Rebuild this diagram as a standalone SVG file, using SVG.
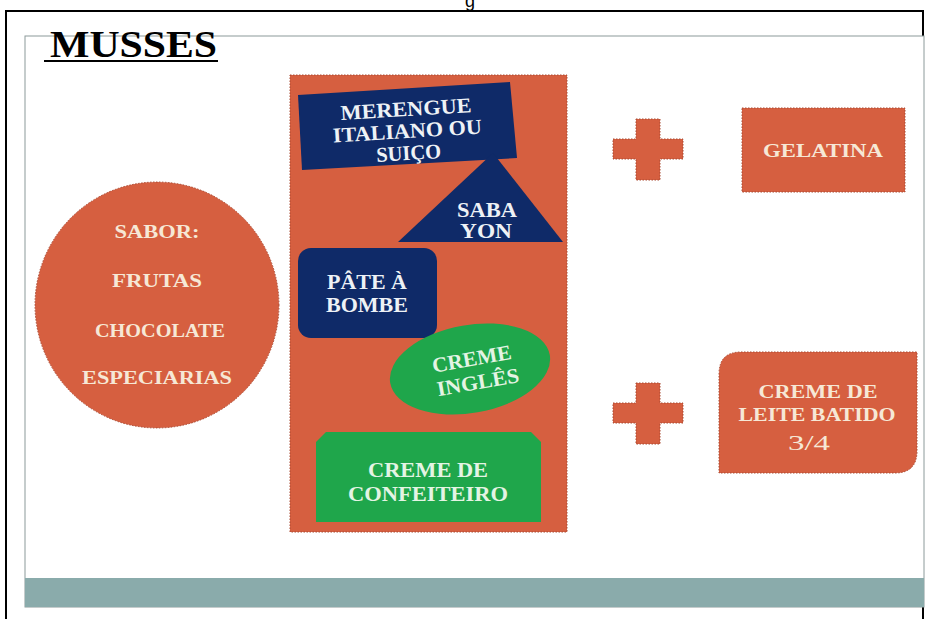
<svg xmlns="http://www.w3.org/2000/svg" width="926" height="619" viewBox="0 0 926 619">
<style>
.t{font-family:"Liberation Serif","DejaVu Serif",serif;font-weight:bold;text-anchor:middle}
.cream{fill:#f6e8d6}
.wh{fill:#eef2f6}
.gt{fill:#e4f4e4}
.or{fill:#d65f40;stroke:#a94a33;stroke-width:1;stroke-dasharray:1.5 1.5}
</style>
<rect width="926" height="619" fill="#fff"/>
<text x="470" y="7" font-family="Liberation Sans,sans-serif" font-size="18" fill="#000" text-anchor="middle">g</text>
<path d="M6 619 V11 H923 V619" fill="none" stroke="#000" stroke-width="2"/>
<rect x="25" y="36" width="899" height="571" fill="#fff" stroke="#8c9a9a" stroke-width="1"/>
<rect x="25" y="578" width="899" height="29" fill="#8aabab"/>
<g id="title">
<text x="50" y="57" font-family="Liberation Serif,serif" font-weight="bold" font-size="37" fill="#000" textLength="167" lengthAdjust="spacingAndGlyphs">MUSSES</text>
<rect x="44" y="60" width="174" height="2" fill="#000"/>
</g>
<g id="container"><rect class="or" x="290" y="75" width="277" height="457"/></g>
<g id="merengue">
<polygon points="298,95 510,82 517,158 302,170" fill="#0f2a68"/>
<text class="t wh" font-size="21" transform="rotate(-3.5 407 126)"><tspan x="407" y="116" textLength="131" lengthAdjust="spacingAndGlyphs">MERENGUE</tspan><tspan x="407" y="138" textLength="149" lengthAdjust="spacingAndGlyphs">ITALIANO OU</tspan><tspan x="407" y="160" textLength="65" lengthAdjust="spacingAndGlyphs">SUIÇO</tspan></text>
</g>
<g id="sabayon">
<polygon points="493,153 563,242 398,242" fill="#0f2a68"/>
<text class="t wh" font-size="20"><tspan x="487" y="217" textLength="60" lengthAdjust="spacingAndGlyphs">SABA</tspan><tspan x="486" y="238" textLength="52" lengthAdjust="spacingAndGlyphs">YON</tspan></text>
</g>
<g id="pate">
<rect x="298" y="248" width="139" height="90" rx="13" fill="#0f2a68"/>
<text class="t wh" font-size="20"><tspan x="367" y="289" textLength="80" lengthAdjust="spacingAndGlyphs">PÂTE À</tspan><tspan x="367" y="312" textLength="82" lengthAdjust="spacingAndGlyphs">BOMBE</tspan></text>
</g>
<g id="inglês">
<ellipse cx="470" cy="369" rx="81" ry="44" transform="rotate(-10 470 369)" fill="#1fa64b"/>
<text class="t gt" font-size="21" transform="rotate(-10 472 372)"><tspan x="474" y="366" textLength="80" lengthAdjust="spacingAndGlyphs">CREME</tspan><tspan x="476" y="390" textLength="83" lengthAdjust="spacingAndGlyphs">INGLÊS</tspan></text>
</g>
<g id="confeiteiro">
<polygon points="326,432 531,432 541,442 541,522 316,522 316,442" fill="#1fa64b"/>
<text class="t gt" font-size="21"><tspan x="428" y="477" textLength="120" lengthAdjust="spacingAndGlyphs">CREME DE</tspan><tspan x="428" y="501" textLength="160" lengthAdjust="spacingAndGlyphs">CONFEITEIRO</tspan></text>
</g>
<g id="sabor">
<ellipse class="or" cx="157" cy="305" rx="122" ry="123"/>
<text class="t cream" font-size="19"><tspan x="157" y="238" textLength="85" lengthAdjust="spacingAndGlyphs">SABOR:</tspan><tspan x="157" y="287" textLength="90" lengthAdjust="spacingAndGlyphs">FRUTAS</tspan><tspan x="160" y="337" textLength="130" lengthAdjust="spacingAndGlyphs">CHOCOLATE</tspan><tspan x="157" y="384" textLength="150" lengthAdjust="spacingAndGlyphs">ESPECIARIAS</tspan></text>
</g>
<g id="plus1"><path class="or" d="M636 119 H660 V139 H683 V159 H660 V180 H636 V159 H613 V139 H636 Z"/></g>
<g id="plus2"><path class="or" d="M636 383 H660 V403 H683 V423 H660 V444 H636 V423 H613 V403 H636 Z"/></g>
<g id="gelatina">
<rect class="or" x="742" y="108" width="163" height="84"/>
<text class="t cream" font-size="19" x="823" y="157" textLength="120" lengthAdjust="spacingAndGlyphs">GELATINA</text>
</g>
<g id="creme-leite">
<path class="or" d="M741 352 H917 V451 Q917 473 895 473 H719 V374 Q719 352 741 352 Z"/>
<text class="t cream" font-size="19"><tspan x="818" y="398" textLength="119" lengthAdjust="spacingAndGlyphs">CREME DE</tspan><tspan x="817" y="421" textLength="157" lengthAdjust="spacingAndGlyphs">LEITE BATIDO</tspan><tspan x="809" y="450" font-weight="normal" font-size="21" textLength="42" lengthAdjust="spacingAndGlyphs">3/4</tspan></text>
</g>
<g id="connectors"></g>
</svg>
